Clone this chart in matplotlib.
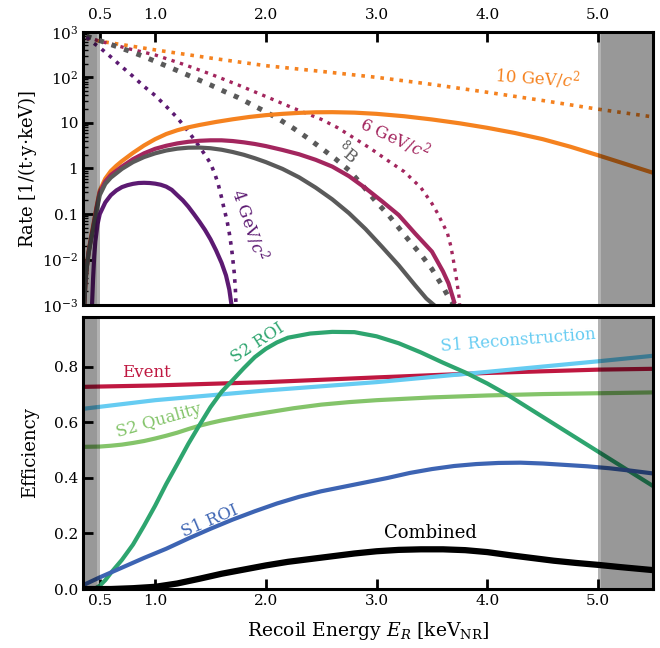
import matplotlib
matplotlib.use("Agg")
import matplotlib.pyplot as plt
import numpy as np

plt.rcParams['font.family'] = 'DejaVu Serif'
plt.rcParams['mathtext.fontset'] = 'dejavuserif'

# ---- top panel: rates [1/(t y keV)] ----
w10_dot_E = [0.38, 0.5, 0.75, 1.0, 1.5, 2.0, 2.5, 3.0, 3.5, 4.0, 4.5, 5.0, 5.5]
w10_dot = [720, 620, 500, 400, 265, 180, 135, 100, 70, 47, 31, 20, 13.5]
w10_E = [0.36, 0.37, 0.38, 0.40, 0.42, 0.44, 0.47, 0.5, 0.55, 0.6, 0.65, 0.7, 0.8, 0.9,
         1.0, 1.1, 1.2, 1.3, 1.4, 1.55, 1.7, 1.85, 2.0, 2.15, 2.3, 2.45, 2.6, 2.8, 3.0,
         3.25, 3.5, 3.75, 4.0, 4.25, 4.5, 4.75, 5.0, 5.25, 5.5]
w10 = [0.001, 0.003, 0.006, 0.016, 0.03, 0.055, 0.14, 0.33, 0.6, 0.88, 1.15, 1.45, 2.2,
       3.2, 4.4, 5.7, 6.9, 8.0, 9.0, 10.5, 12, 13.5, 14.8, 15.8, 16.6, 17.1, 17.2, 16.8,
       15.8, 14, 11.9, 9.8, 7.8, 6, 4.4, 3.0, 1.95, 1.25, 0.8]

w6_dot_E = [0.38, 0.5, 0.625, 0.75, 0.875, 1.0, 1.25, 1.5, 1.75, 2.0, 2.25, 2.5, 2.65,
            2.8, 2.95, 3.1, 3.25, 3.4, 3.5, 3.55, 3.6, 3.64, 3.67, 3.69, 3.72, 3.745, 3.75]
w6_dot = [780, 620, 520, 430, 365, 310, 195, 118, 68, 38, 21, 12, 7.8, 4.6, 2.7, 1.5,
          0.85, 0.38, 0.17, 0.105, 0.06, 0.038, 0.02, 0.011, 0.004, 0.0015, 0.001]
w6_E = [0.36, 0.37, 0.38, 0.40, 0.42, 0.44, 0.47, 0.5, 0.55, 0.6, 0.7, 0.8, 0.9, 1.0,
        1.1, 1.2, 1.3, 1.4, 1.5, 1.6, 1.7, 1.8, 1.9, 2.0, 2.15, 2.3, 2.45, 2.6, 2.75,
        2.9, 3.05, 3.2, 3.35, 3.5, 3.6, 3.65, 3.7]
w6 = [0.001, 0.003, 0.006, 0.015, 0.028, 0.05, 0.13, 0.3, 0.52, 0.72, 1.1, 1.6, 2.15,
      2.7, 3.15, 3.55, 3.85, 4.05, 4.15, 4.15, 4.0, 3.75, 3.45, 3.1, 2.55, 2.05, 1.55,
      1.1, 0.68, 0.37, 0.19, 0.095, 0.037, 0.015, 0.0055, 0.003, 0.0012]

b8_dot_E = [0.38, 0.5, 0.625, 0.75, 0.875, 1.0, 1.125, 1.25, 1.375, 1.5, 1.625, 1.75,
            1.875, 2.0, 2.125, 2.25, 2.375, 2.5, 2.625, 2.75, 2.875, 3.0, 3.1, 3.2, 3.3,
            3.4, 3.5, 3.6, 3.65, 3.7]
b8_dot = [800, 640, 500, 390, 300, 225, 168, 125, 92, 68, 49, 36, 25, 17.5, 11.8, 7.6,
          4.7, 2.8, 1.65, 0.92, 0.42, 0.18, 0.1, 0.05, 0.025, 0.013, 0.0062, 0.0025,
          0.0015, 0.001]
b8_E = [0.36, 0.37, 0.38, 0.40, 0.42, 0.44, 0.47, 0.5, 0.55, 0.6, 0.7, 0.8, 0.9, 1.0,
        1.1, 1.2, 1.3, 1.4, 1.5, 1.6, 1.7, 1.8, 1.9, 2.0, 2.15, 2.3, 2.45, 2.6, 2.75,
        2.9, 3.05, 3.2, 3.35, 3.45, 3.52]
b8 = [0.001, 0.003, 0.006, 0.014, 0.026, 0.045, 0.11, 0.26, 0.46, 0.63, 0.98, 1.38,
      1.78, 2.15, 2.48, 2.72, 2.86, 2.88, 2.78, 2.58, 2.3, 2.0, 1.68, 1.38, 0.98, 0.64,
      0.38, 0.21, 0.105, 0.047, 0.019, 0.0075, 0.0027, 0.0014, 0.001]

w4_dot_E = [0.38, 0.42, 0.5, 0.6, 0.7, 0.8, 0.9, 1.0, 1.1, 1.2, 1.3, 1.4, 1.45, 1.5,
            1.54, 1.57, 1.6, 1.62, 1.65, 1.67, 1.69, 1.70, 1.715, 1.725, 1.73]
w4_dot = [750, 620, 450, 280, 170, 105, 63, 40, 23, 13, 6.5, 3.0, 2.0, 1.3, 0.75, 0.45,
          0.23, 0.14, 0.07, 0.038, 0.018, 0.011, 0.005, 0.0022, 0.001]
w4_E = [0.43, 0.44, 0.45, 0.46, 0.48, 0.5, 0.55, 0.6, 0.65, 0.7, 0.75, 0.8, 0.85, 0.9,
        0.95, 1.0, 1.05, 1.1, 1.15, 1.2, 1.25, 1.3, 1.35, 1.4, 1.45, 1.5, 1.55, 1.6,
        1.64, 1.67, 1.69]
w4 = [0.001, 0.004, 0.012, 0.025, 0.06, 0.1, 0.18, 0.26, 0.33, 0.39, 0.43, 0.46, 0.48,
      0.485, 0.48, 0.465, 0.44, 0.4, 0.34, 0.26, 0.2, 0.145, 0.1, 0.068, 0.045, 0.028,
      0.016, 0.0085, 0.0045, 0.0022, 0.001]

# ---- bottom panel: efficiencies ----
ev_E = [0.35, 1.0, 2.0, 3.0, 4.0, 5.0, 5.5]
ev = [0.728, 0.733, 0.745, 0.762, 0.778, 0.79, 0.793]

s1rec_E = [0.35, 1.0, 2.0, 3.0, 4.0, 5.0, 5.5]
s1rec = [0.649, 0.68, 0.715, 0.745, 0.782, 0.82, 0.84]

s2q_E = [0.35, 0.5, 0.6, 0.7, 0.8, 0.9, 1.0, 1.1, 1.2, 1.3, 1.4, 1.5, 1.6, 1.8, 2.0,
         2.25, 2.5, 2.75, 3.0, 3.5, 4.0, 4.5, 5.0, 5.5]
s2q = [0.512, 0.513, 0.516, 0.52, 0.526, 0.533, 0.542, 0.552, 0.563, 0.576, 0.588,
       0.598, 0.607, 0.622, 0.635, 0.651, 0.664, 0.673, 0.68, 0.69, 0.697, 0.702, 0.705,
       0.708]

s2roi_E = [0.45, 0.5, 0.55, 0.6, 0.7, 0.8, 0.9, 1.0, 1.1, 1.2, 1.3, 1.4, 1.5, 1.6, 1.7,
           1.8, 1.9, 2.0, 2.1, 2.2, 2.4, 2.6, 2.8, 3.0, 3.2, 3.4, 3.6, 3.8, 4.0, 4.2,
           4.4, 4.6, 4.8, 5.0, 5.1, 5.3, 5.5]
s2roi = [0.0, 0.012, 0.032, 0.058, 0.105, 0.16, 0.228, 0.3, 0.378, 0.45, 0.523, 0.59,
         0.655, 0.71, 0.752, 0.795, 0.835, 0.865, 0.888, 0.905, 0.92, 0.926, 0.925, 0.91,
         0.885, 0.852, 0.815, 0.78, 0.74, 0.695, 0.645, 0.595, 0.545, 0.495, 0.47, 0.42,
         0.37]

s1roi_E = [0.35, 0.5, 0.7, 0.9, 1.1, 1.3, 1.5, 1.7, 1.9, 2.1, 2.3, 2.5, 2.7, 2.9, 3.1,
           3.3, 3.5, 3.7, 3.9, 4.1, 4.3, 4.5, 4.7, 4.9, 5.1, 5.3, 5.5]
s1roi = [0.014, 0.042, 0.077, 0.112, 0.145, 0.182, 0.217, 0.25, 0.28, 0.308, 0.332,
         0.352, 0.368, 0.384, 0.4, 0.418, 0.432, 0.443, 0.45, 0.454, 0.455, 0.452, 0.447,
         0.442, 0.435, 0.426, 0.416]

comb_E = [0.35, 0.6, 0.8, 1.0, 1.2, 1.4, 1.6, 1.8, 2.0, 2.2, 2.4, 2.6, 2.8, 3.0, 3.2,
          3.4, 3.6, 3.8, 4.0, 4.2, 4.4, 4.6, 4.8, 5.0, 5.2, 5.5]
comb = [0.0, 0.0, 0.003, 0.008, 0.02, 0.037, 0.055, 0.07, 0.085, 0.098, 0.108, 0.118,
        0.128, 0.136, 0.141, 0.143, 0.143, 0.14, 0.133, 0.122, 0.112, 0.102, 0.094,
        0.087, 0.079, 0.068]

xticks = [0.5, 1.0, 2.0, 3.0, 4.0, 5.0]
xticklabels = ['0.5', '1.0', '2.0', '3.0', '4.0', '5.0']
yticks_top = [1e-3, 1e-2, 0.1, 1, 10, 1e2, 1e3]
yticklabels_top = ['$10^{-3}$', '$10^{-2}$', '0.1', '1', '10', '$10^{2}$', '$10^{3}$']
yticks_bot = [0.0, 0.2, 0.4, 0.6, 0.8]

c10 = '#F5821F'
c6 = '#A3265E'
c4 = '#5C1A72'
cb8 = '#5A5A5A'

fig = plt.figure(figsize=(6.6, 6.48), dpi=100)
ax1 = fig.add_axes([0.126, 0.529, 0.864, 0.422])
ax2 = fig.add_axes([0.126, 0.091, 0.864, 0.420])

xmin, xmax = 0.35, 5.5


def shade(ax):
    ax.axvspan(xmin, 0.5, color='k', alpha=0.3, lw=0, zorder=5)
    ax.axvspan(xmin, 0.475, color='k', alpha=0.143, lw=0, zorder=5)
    ax.axvspan(5.0, xmax, color='k', alpha=0.3, lw=0, zorder=5)
    ax.axvspan(5.025, xmax, color='k', alpha=0.143, lw=0, zorder=5)


# top
ax1.plot(w10_dot_E, w10_dot, ':', color=c10, lw=2.6)
ax1.plot(w6_dot_E, w6_dot, ':', color=c6, lw=2.4)
ax1.plot(b8_dot_E, b8_dot, ':', color=cb8, lw=3.6)
ax1.plot(w4_dot_E, w4_dot, ':', color=c4, lw=2.6)
ax1.plot(w10_E, w10, '-', color=c10, lw=3)
ax1.plot(w6_E, w6, '-', color=c6, lw=3)
ax1.plot(b8_E, b8, '-', color=cb8, lw=3)
ax1.plot(w4_E, w4, '-', color=c4, lw=3)
shade(ax1)
ax1.set_yscale('log')
ax1.set_ylim(1e-3, 1e3)
ax1.set_xlim(xmin, xmax)
ax1.set_yticks(yticks_top)
ax1.set_yticklabels(yticklabels_top)
ax1.set_xticks(xticks)
ax1.set_xticklabels(xticklabels)
ax1.tick_params(axis='x', which='both', direction='in', top=True, bottom=False,
                labeltop=True, labelbottom=False, length=7, width=2, labelsize=11, pad=7)
ax1.tick_params(axis='y', which='major', direction='in', left=True, right=False,
                length=7, width=2, labelsize=11)
ax1.tick_params(axis='y', which='minor', direction='in', left=True, right=False,
                length=3.5, width=1)
ax1.set_ylabel('Rate [1/(t$\\cdot$y$\\cdot$keV)]', fontsize=13)

ax1.text(4.45, 98, '10 GeV/$c^2$', color=c10, fontsize=12, rotation=-4,
         ha='center', va='center')
ax1.text(3.17, 4.7, '6 GeV/$c^2$', color=c6, fontsize=12, rotation=-25,
         ha='center', va='center')
ax1.text(2.74, 2.3, '$^{8}$B', color=cb8, fontsize=12, rotation=-40,
         ha='center', va='center')
ax1.text(1.85, 0.06, '4 GeV/$c^2$', color=c4, fontsize=12, rotation=-71,
         ha='center', va='center')

# bottom
ax2.plot(ev_E, ev, color='#BF1740', lw=3)
ax2.plot(s1rec_E, s1rec, color='#66CCF2', lw=3)
ax2.plot(s2q_E, s2q, color='#84C46A', lw=3)
ax2.plot(s2roi_E, s2roi, color='#2EA56F', lw=3)
ax2.plot(s1roi_E, s1roi, color='#3D64B3', lw=3)
ax2.plot(comb_E, comb, color='k', lw=4.5)
shade(ax2)
ax2.set_xlim(xmin, xmax)
ax2.set_ylim(0, 0.98)
ax2.set_xticks(xticks)
ax2.set_xticklabels(xticklabels)
ax2.set_yticks(yticks_bot)
ax2.set_yticklabels(['%.1f' % v for v in yticks_bot])
ax2.tick_params(axis='x', direction='in', top=False, bottom=True, length=7, width=2,
                labelsize=11)
ax2.tick_params(axis='y', direction='in', left=True, right=False, length=7, width=2,
                labelsize=11)
ax2.set_ylabel('Efficiency', fontsize=13)
ax2.set_xlabel('Recoil Energy $E_R$ [keV$_{\\rm NR}$]', fontsize=13.5, labelpad=9)

ax2.text(0.92, 0.778, 'Event', color='#BF1740', fontsize=12, ha='center', va='center')
ax2.text(4.28, 0.894, 'S1 Reconstruction', color='#66CCF2', fontsize=12, rotation=4.5,
         ha='center', va='center')
ax2.text(1.93, 0.885, 'S2 ROI', color='#2EA56F', fontsize=12, rotation=33,
         ha='center', va='center')
ax2.text(1.03, 0.605, 'S2 Quality', color='#84C46A', fontsize=12, rotation=16,
         ha='center', va='center')
ax2.text(1.49, 0.245, 'S1 ROI', color='#3D64B3', fontsize=12, rotation=23,
         ha='center', va='center')
ax2.text(3.49, 0.2, 'Combined', color='k', fontsize=13, ha='center', va='center')

for ax in (ax1, ax2):
    for s in ax.spines.values():
        s.set_linewidth(2.2)
    ax.yaxis.set_label_coords(-0.078, 0.5)

fig.savefig('out.png', dpi=100)
